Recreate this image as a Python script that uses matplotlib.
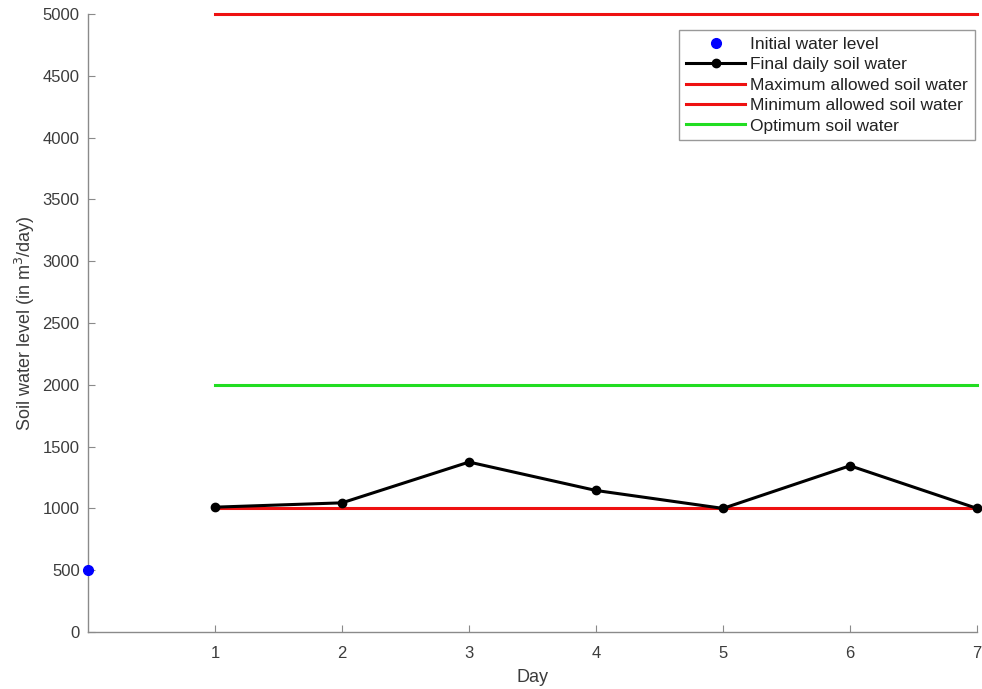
import matplotlib
matplotlib.use("Agg")
import matplotlib.pyplot as plt

plt.rcParams['font.family'] = ['Liberation Sans', 'DejaVu Sans']

days = [1, 2, 3, 4, 5, 6, 7]
final_water = [1010, 1045, 1375, 1145, 1000, 1345, 1000]
initial_day = [0]
initial_water = [500]
max_allowed = [5000] * 7
min_allowed = [1000] * 7
optimum = [2000] * 7
x_ticks = [1, 2, 3, 4, 5, 6, 7]
y_ticks = [0, 500, 1000, 1500, 2000, 2500, 3000, 3500, 4000, 4500, 5000]

fig = plt.figure(figsize=(9.82, 6.89), dpi=100)
ax = fig.add_axes([88 / 982, 1 - 632 / 689, (977 - 88) / 982, (632 - 14) / 689])

ax.plot(initial_day, initial_water, 'o', color='#0000ff', ms=7, label='Initial water level', clip_on=False, zorder=5)
ax.plot(days, max_allowed, '-', color='#ee1111', lw=2.2, label='Maximum allowed soil water', clip_on=False)
ax.plot(days, min_allowed, '-', color='#ee1111', lw=2.2, label='Minimum allowed soil water', clip_on=False)
ax.plot(days, optimum, '-', color='#22dd22', lw=2.2, label='Optimum soil water', clip_on=False)
ax.plot(days, final_water, '-o', color='black', lw=2.2, ms=6, label='Final daily soil water', clip_on=False, zorder=4)

ax.set_xlim(0, 7)
ax.set_ylim(0, 5000)
ax.set_xticks(x_ticks)
ax.set_yticks(y_ticks)
for s in ['top', 'right']:
    ax.spines[s].set_visible(False)
for s in ['left', 'bottom']:
    ax.spines[s].set_color('#8a8a8a')
    ax.spines[s].set_linewidth(1.0)
ax.tick_params(direction='in', length=5, color='#8a8a8a', labelcolor='#3c3c3c', labelsize=12)
ax.tick_params(axis='x', pad=10)
ax.tick_params(axis='y', pad=6)
ax.set_xlabel('Day', fontsize=13, color='#3c3c3c', labelpad=6)
ax.set_ylabel('Soil water level (in m$^3$/day)', fontsize=13, color='#3c3c3c', labelpad=4)

h, l = ax.get_legend_handles_labels()
order = [0, 4, 1, 2, 3]
leg = ax.legend([h[i] for i in order], [l[i] for i in order], loc='upper right',
                bbox_to_anchor=(975 / 982, 1 - 30 / 689), bbox_transform=fig.transFigure,
                borderaxespad=0, fontsize=12.5, frameon=True, fancybox=False, framealpha=1,
                edgecolor='#999999', handlelength=3.4, handletextpad=0.3,
                labelspacing=0.3, borderpad=0.4)
for t in leg.get_texts():
    t.set_color('#222222')

fig.savefig('out.png', dpi=100)
